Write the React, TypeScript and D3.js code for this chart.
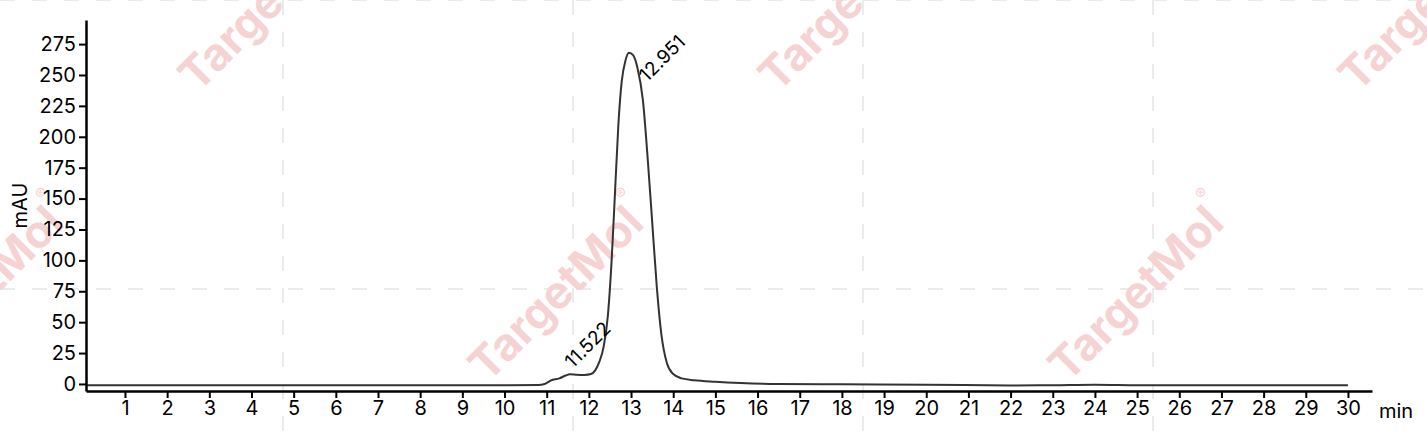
import { useEffect, useRef } from "react";
import * as d3 from "d3";

// retention time (min) and absorbance (mAU)
const times = [
  0.1, 5, 10, 10.8, 10.95, 11.1, 11.3, 11.45, 11.55, 11.7, 11.9, 12.05, 12.15,
  12.25, 12.35, 12.45, 12.54, 12.62, 12.7, 12.78, 12.87, 12.95, 13.05, 13.15,
  13.28, 13.4, 13.5, 13.61, 13.72, 13.85, 14.0, 14.2, 14.5, 15.0, 15.6, 16.5,
  18, 20, 22, 23, 24, 25, 26, 30,
];
const absorbance = [
  -1, -1, -1, -0.8, 0, 2.8, 4.5, 6.8, 7.8, 7.5, 7.3, 8, 11, 18, 30, 55, 100,
  155, 210, 245, 262, 268, 266, 256, 230, 180, 132, 79, 40, 17, 8, 4.5, 3, 1.8,
  0.8, 0, -0.3, -0.6, -1.2, -1, -0.6, -1, -1.1, -1.1,
];

const peakTimes = [11.522, 12.951];
const peakHeights = [8, 268];
const peakLabels = ["11.522", "12.951"];

const xTicks = d3.range(1, 31);
const yTicks = [0, 25, 50, 75, 100, 125, 150, 175, 200, 225, 250, 275];

const W = 1427;
const H = 444;
const left = 86;
const right = 1372;
const top = 20;
const bottom = 391;
const font = "Inter, 'Open Sans', sans-serif";

function Watermark() {
  const centers: [number, number][] = [
    [272, 2],
    [852, 2],
    [1432, 2],
    [-18, 292],
    [562, 292],
    [1142, 292],
  ];
  const vLines = [283, 573, 863, 1153];
  const hLines = [0, 289];
  return (
    <g>
      {vLines.map((x) => (
        <line
          key={`v${x}`}
          x1={x}
          x2={x}
          y1={0}
          y2={H}
          stroke="#ebebeb"
          strokeWidth={2}
          strokeDasharray="15 17"
        />
      ))}
      {hLines.map((y) => (
        <line
          key={`h${y}`}
          x1={0}
          x2={W}
          y1={y}
          y2={y}
          stroke="#ebebeb"
          strokeWidth={2}
          strokeDasharray="15 17"
        />
      ))}
      {centers.map(([cx, cy], i) => (
        <text
          key={i}
          transform={`translate(${cx},${cy}) rotate(-45)`}
          textAnchor="middle"
          dominantBaseline="middle"
          fontFamily={font}
          fontWeight={700}
          fontSize={45}
          fill="#f6d3d3"
        >
          TargetMol
          <tspan fontSize={16} dy={-26} fontWeight={400}>
            ®
          </tspan>
        </text>
      ))}
    </g>
  );
}

export default function App() {
  const xRef = useRef<SVGGElement>(null);
  const yRef = useRef<SVGGElement>(null);

  const x = d3.scaleLinear().domain([0.076, 30.57]).range([left, right]);
  const y = d3.scaleLinear().domain([-5.7, 294.5]).range([bottom, top]);

  const data = times.map((t, i) => [t, absorbance[i]] as [number, number]);
  const line = d3
    .line<[number, number]>()
    .x((d) => x(d[0]))
    .y((d) => y(d[1]))
    .curve(d3.curveMonotoneX);

  useEffect(() => {
    if (xRef.current) {
      const g = d3.select(xRef.current);
      g.selectAll("*").remove();
      g.call(
        d3
          .axisBottom(x)
          .tickValues(xTicks)
          .tickSize(7)
          .tickSizeOuter(0)
          .tickPadding(3)
          .tickFormat(d3.format("d"))
      );
      g.select(".domain").attr("stroke-width", 2.5);
      g.selectAll(".tick line").attr("stroke-width", 2);
      g.selectAll("text")
        .attr("font-size", 20)
        .attr("font-family", font)
        .attr("fill", "#000");
    }
    if (yRef.current) {
      const g = d3.select(yRef.current);
      g.selectAll("*").remove();
      g.call(
        d3
          .axisLeft(y)
          .tickValues(yTicks)
          .tickSize(7)
          .tickSizeOuter(0)
          .tickPadding(3)
      );
      g.select(".domain").attr("stroke-width", 2.5);
      g.selectAll(".tick line").attr("stroke-width", 2);
      g.selectAll("text")
        .attr("font-size", 20)
        .attr("font-family", font)
        .attr("fill", "#000");
    }
  }, []);

  const labelOffsets: [number, number][] = [
    [4, -5],
    [18, 30],
  ];

  return (
    <svg
      width={W}
      height={H}
      style={{ position: "absolute", left: 0, top: 0, background: "#fff" }}
    >
      <Watermark />
      <path
        d={line(data) as string}
        fill="none"
        stroke="#333"
        strokeWidth={2}
        strokeLinejoin="round"
      />
      <g ref={xRef} transform={`translate(0,${bottom})`} />
      <g ref={yRef} transform={`translate(${left},0)`} />
      {peakTimes.map((t, i) => (
        <text
          key={peakLabels[i]}
          transform={`translate(${x(t) + labelOffsets[i][0]},${
            y(peakHeights[i]) + labelOffsets[i][1]
          }) rotate(-45)`}
          fontFamily={font}
          fontSize={19}
          fill="#000"
        >
          {peakLabels[i]}
        </text>
      ))}
      <text
        x={right + 7}
        y={bottom + 27}
        fontFamily={font}
        fontSize={20}
        fill="#000"
      >
        min
      </text>
      <text
        transform={`translate(27,${(top + bottom) / 2}) rotate(-90)`}
        textAnchor="middle"
        fontFamily={font}
        fontSize={20}
        fill="#000"
      >
        mAU
      </text>
    </svg>
  );
}
